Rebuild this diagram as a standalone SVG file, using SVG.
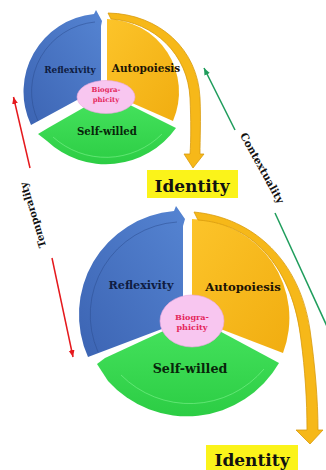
<svg xmlns="http://www.w3.org/2000/svg" width="326" height="470" viewBox="0 0 326 470">
  <style>
    .lbl{font-family:"DejaVu Serif","Liberation Serif",serif;font-weight:bold;text-anchor:middle}
    .ref{fill:#0f1c40}
    .auto{fill:#1c1405}
    .self{fill:#08250a}
    .bio{fill:#e4265c}
    .side{fill:#111}
    .blue{fill:url(#gBlue)}
    .yel{fill:url(#gYel)}
    .band{fill:#f6b819;stroke:#d89a0c;stroke-width:0.8}
    .green{fill:url(#gGreen)}
    .ell{fill:#f8c6f0;stroke:#eaa6de;stroke-width:0.6}
    .inner{fill:none;stroke:#2c4f92;stroke-width:0.9;opacity:0.6}
    .innerG{fill:none;stroke:#7af08a;stroke-width:0.9;opacity:0.7}
    .idbox{fill:#fbf31a}
    .red{stroke:#e5191d;stroke-width:1.5;fill:none}
    .grn{stroke:#1f9d5c;stroke-width:1.5;fill:none}
  </style>
  <defs>
    <linearGradient id="gBlue" x1="1" y1="0" x2="0" y2="1">
      <stop offset="0" stop-color="#5584d2"/>
      <stop offset="1" stop-color="#3c64b3"/>
    </linearGradient>
    <linearGradient id="gYel" x1="0" y1="0" x2="1" y2="1">
      <stop offset="0" stop-color="#fcc42a"/>
      <stop offset="1" stop-color="#f1ad10"/>
    </linearGradient>
    <linearGradient id="gGreen" x1="0" y1="0" x2="0" y2="1">
      <stop offset="0" stop-color="#44e15c"/>
      <stop offset="1" stop-color="#2ccd44"/>
    </linearGradient>
    <marker id="arrRed" markerUnits="userSpaceOnUse" markerWidth="8" markerHeight="8" refX="7" refY="4" orient="auto">
      <path d="M0,1 L7,4 L0,7 Z" fill="#e5191d"/>
    </marker>
    <marker id="arrGreen" markerUnits="userSpaceOnUse" markerWidth="8" markerHeight="8" refX="7" refY="4" orient="auto">
      <path d="M0,1 L7,4 L0,7 Z" fill="#1f9d5c"/>
    </marker>
  </defs>

  <!-- upper cycle -->
  <g id="cycle-top">
    <g id="top-reflexivity">
      <path class="blue" d="M31,125 A78,78 0 0 1 94,14 L96,10 L102,21 L101,26 L101,87 Z"/>
      <path class="inner" d="M38,121 A70,70 0 0 1 95,22"/>
      <text class="lbl ref" x="70" y="73" font-size="8.9">Reflexivity</text>
    </g>
    <g id="top-autopoiesis">
      <path class="yel" d="M107,92 L107,19 A73,73 0 0 1 173,121 Z"/>
      <path class="band" d="M108,13 C160,14 198,50 200,98 C201,120 200,140 200,154 L204,154 L193,168 L184,154 L190,154 C191,140 191,120 190,98 C188,55 155,22 111,19 Z"/>
      <text class="lbl auto" x="146" y="72" font-size="10.5">Autopoiesis</text>
    </g>
    <g id="top-selfwilled">
      <path class="green" d="M90,104 L128,104 L176,128 A86,86 0 0 1 47,141 L38,134 L48,128 Z"/>
      <path class="innerG" d="M162,134 A79,79 0 0 1 53,137"/>
      <text class="lbl self" x="107" y="135" font-size="10.2">Self-willed</text>
    </g>
    <g id="top-biographicity">
      <ellipse class="ell" cx="106" cy="97" rx="29" ry="16.5"/>
      <text class="lbl bio" x="106" y="92" font-size="6.9">Biogra-</text>
      <text class="lbl bio" x="106" y="101.5" font-size="6.9">phicity</text>
    </g>
  </g>

  <g id="identity-top">
    <rect class="idbox" x="147" y="170" width="91" height="28"/>
    <text class="lbl" x="192" y="192" font-size="17" fill="#111">Identity</text>
  </g>

  <!-- lower cycle -->
  <g id="cycle-bottom">
    <g id="bottom-reflexivity">
      <path class="blue" d="M88,357 A104,104 0 0 1 174,211 L176,206 L185,219 L183,226 L183,321 Z"/>
      <path class="inner" d="M98,352 A93,93 0 0 1 177,222"/>
      <text class="lbl ref" x="141" y="289" font-size="11.2">Reflexivity</text>
    </g>
    <g id="bottom-autopoiesis">
      <path class="yel" d="M192,318 L192,219 A99,99 0 0 1 283,353 Z"/>
      <path class="band" d="M194,212 C255,218 300,262 310,330 C315,365 318,400 318,430 L323,430 L310,444 L296,430 L307,430 C307,400 305,370 301,340 C293,270 255,224 198,220 Z"/>
      <text class="lbl auto" x="243" y="291" font-size="11.6">Autopoiesis</text>
    </g>
    <g id="bottom-selfwilled">
      <path class="green" d="M172,327 L212,327 L279,363 A106,106 0 0 1 108,381 L97,364 L105,358 Z"/>
      <path class="innerG" d="M264,369 A97,97 0 0 1 121,375"/>
      <text class="lbl self" x="190" y="373" font-size="12.7">Self-willed</text>
    </g>
    <g id="bottom-biographicity">
      <ellipse class="ell" cx="192" cy="321" rx="32" ry="26"/>
      <text class="lbl bio" x="192" y="320" font-size="8.1">Biogra-</text>
      <text class="lbl bio" x="192" y="330" font-size="8.1">phicity</text>
    </g>
  </g>

  <g id="identity-bottom">
    <rect class="idbox" x="206" y="445" width="92" height="25"/>
    <text class="lbl" x="252" y="466" font-size="17" fill="#111">Identity</text>
  </g>

  <!-- side connectors -->
  <g id="connectors">
    <path class="red" d="M30,168 L13.5,97" marker-end="url(#arrRed)"/>
    <path class="red" d="M52,258 L73,357" marker-end="url(#arrRed)"/>
    <path class="grn" d="M235,130 L204,68" marker-end="url(#arrGreen)"/>
    <path class="grn" d="M275,213 L331,335"/>
  </g>

  <g id="side-labels">
    <text class="lbl side" font-size="10.2" transform="translate(33,215) rotate(-107)" y="3.5">Temporality</text>
    <text class="lbl side" font-size="10.5" transform="translate(262,168) rotate(61)" y="3.5">Contextuality</text>
  </g>
</svg>
